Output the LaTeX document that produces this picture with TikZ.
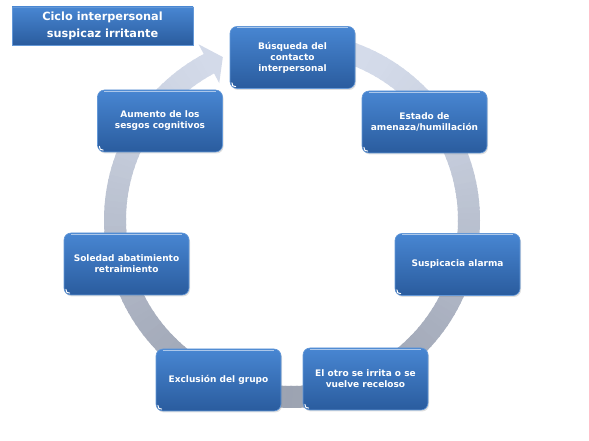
\documentclass[tikz,border=0pt]{standalone}
\usepackage{fontspec}
\setmainfont{DejaVu Sans}
\usetikzlibrary{shadows}
\definecolor{boxtop}{RGB}{72,134,210}
\definecolor{boxbot}{RGB}{42,92,158}
\definecolor{boxedge}{RGB}{100,152,215}
\definecolor{ringlight}{RGB}{214,221,236}
\definecolor{ringdark}{RGB}{156,163,178}
\tikzset{
  box/.style={rounded corners=7pt, top color=boxtop, bottom color=boxbot,
    draw=boxedge, line width=0.6pt, minimum width=125pt, minimum height=62pt,
    text=white, align=center, font=\fontsize{9}{11}\selectfont\bfseries,
    drop shadow={opacity=0.25, shadow xshift=1pt, shadow yshift=-1.5pt}},
  titlebox/.style={top color=boxtop, bottom color=boxbot, draw=boxedge,
    line width=0.6pt, minimum width=181pt, minimum height=38pt, text=white,
    align=center, font=\fontsize{11.3}{17}\selectfont\bfseries,
    drop shadow={opacity=0.25, shadow xshift=1pt, shadow yshift=-1.5pt}},
  shine/.style={white, opacity=0.55, line width=0.8pt},
  notch/.style={white, line width=1pt, line cap=round}
}
\begin{document}
\begin{tikzpicture}[x=1pt,y=1pt]
\useasboundingbox (0,0) rectangle (589,441);
\coordinate (c) at (292,221);
% ring
\foreach \a in {100,98,...,-240} {
  \pgfmathtruncatemacro\t{(1-sin(\a))/2*100}
  \colorlet{rc}{ringdark!\t!ringlight}
  \draw[rc, line width=22pt] ([shift={(c)}]\a:177pt) arc[start angle=\a, end angle=\a-2.6, radius=177pt];
}
\fill[ringdark!5!ringlight] ([shift={(c)}]118:199pt) -- ([shift={(c)}]113:177pt) -- ([shift={(c)}]118:155pt) -- cycle;
% boxes
\node[box] (b) at (292.5,383.5) {Búsqueda del\\contacto\\interpersonal};
\node[box] (e) at (424.5,319) {Estado de\\amenaza/humillación};
\node[box] (s) at (457.5,176.5) {Suspicacia alarma};
\node[box] (o) at (365.5,62) {El otro se irrita o se\\vuelve receloso};
\node[box] (x) at (218.5,61) {Exclusión del grupo};
\node[box] (l) at (126.5,177) {Soledad abatimiento\\retraimiento};
\node[box] (a) at (160,320) {Aumento de los\\sesgos cognitivos};
\node[titlebox] (t) at (102.5,415) {Ciclo interpersonal\\suspicaz irritante};
\foreach \n in {b,e,s,o,x,l,a}{
  \draw[shine] ([xshift=7pt,yshift=-1.6pt]\n.north west) -- ([xshift=-7pt,yshift=-1.6pt]\n.north east);
  \draw[notch] ([shift={(2.2pt,6pt)}]\n.south west) .. controls ([shift={(2.6pt,3pt)}]\n.south west) .. ([shift={(6pt,2.2pt)}]\n.south west);
}
\end{tikzpicture}
\end{document}
